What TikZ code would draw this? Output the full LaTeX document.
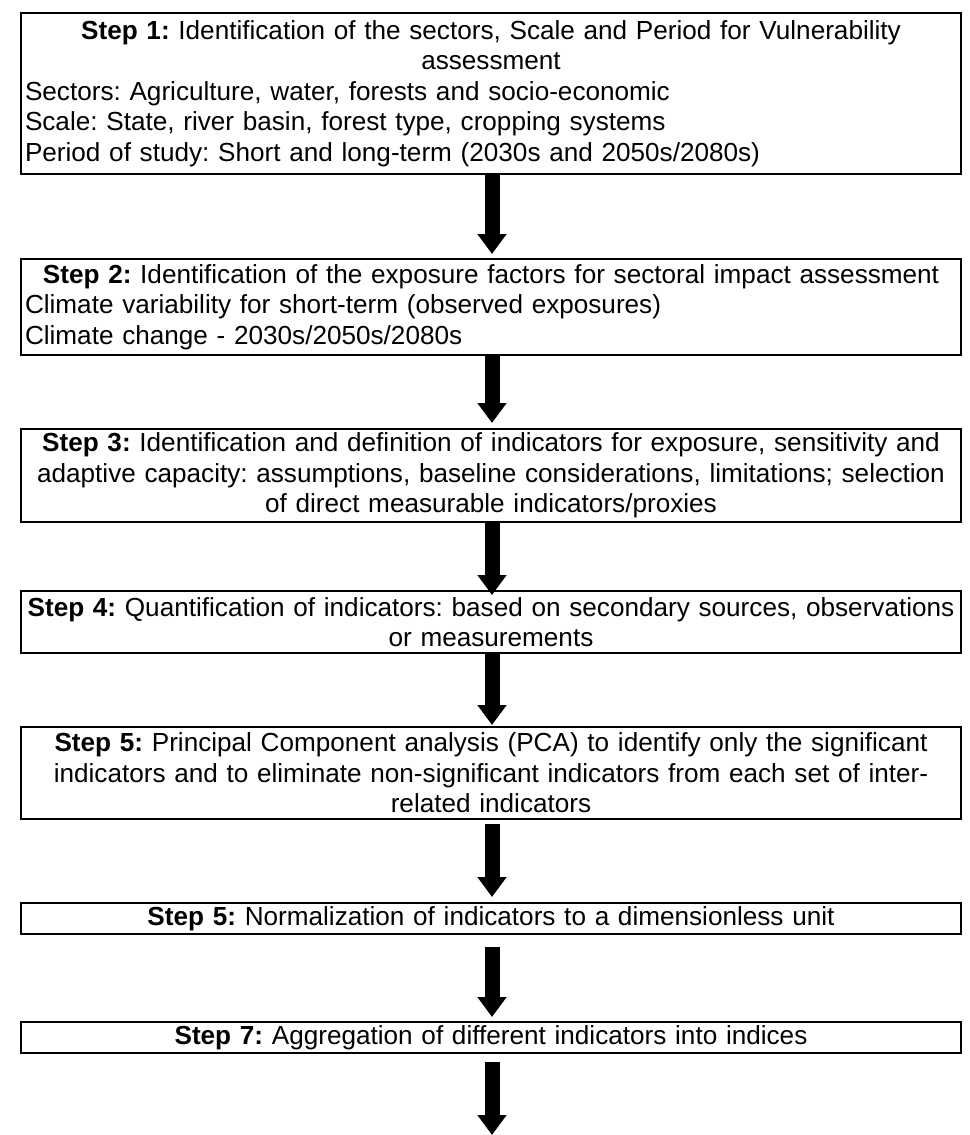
\documentclass[tikz,border=0pt]{standalone}
\usepackage{fontspec}
\setmainfont{Liberation Sans}
\usetikzlibrary{arrows.meta}
\newcommand{\boxcline}[1]{\makebox[\linewidth][c]{#1}}
\newcommand{\boxlline}[1]{\makebox[\linewidth][l]{#1}}
\begin{document}
\frenchspacing
\begin{tikzpicture}[x=0.75pt,y=-0.75pt,
  stepbox/.style={draw, line width=1.5pt, rectangle, inner xsep=3pt, inner ysep=0pt,
    text width=699pt, align=left, anchor=north,
    font=\fontsize{19.6pt}{22.9pt}\selectfont\frenchspacing},
  flow/.style={line width=11.25pt, -{Triangle[width=21pt,length=15pt]}}
]
\useasboundingbox (0,0) rectangle (970,1135);

\node[stepbox, minimum height=120.75pt] (b1) at (491,12) {%
  \boxcline{\textbf{Step 1:} Identification of the sectors, Scale and Period for Vulnerability}\\
  \boxcline{assessment}\\
  \boxlline{Sectors: Agriculture, water, forests and socio-economic}\\
  \boxlline{Scale: State, river basin, forest type, cropping systems}\\
  \boxlline{Period of study: Short and long-term (2030s and 2050s/2080s)}};

\node[stepbox, minimum height=72pt] (b2) at (491,258) {%
  \boxcline{\textbf{Step 2:} Identification of the exposure factors for sectoral impact assessment}\\
  \boxlline{Climate variability for short-term (observed exposures)}\\
  \boxlline{Climate change - 2030s/2050s/2080s}};

\node[stepbox, minimum height=69.75pt] (b3) at (491,428) {%
  \boxcline{\textbf{Step 3:} Identification and definition of indicators for exposure, sensitivity and}\\
  \boxcline{adaptive capacity: assumptions, baseline considerations, limitations; selection}\\
  \boxcline{of direct measurable indicators/proxies}};

\node[stepbox, minimum height=46.5pt] (b4) at (491,590) {%
  \boxcline{\textbf{Step 4:} Quantification of indicators: based on secondary sources, observations}\\
  \boxcline{or measurements}};

\node[stepbox, minimum height=69pt] (b5) at (491,726) {%
  \boxcline{\textbf{Step 5:} Principal Component analysis (PCA) to identify only the significant}\\
  \boxcline{indicators and to eliminate non-significant indicators from each set of inter-}\\
  \boxcline{related indicators}};

\node[stepbox, minimum height=23.25pt] (b6) at (491,902) {%
  \boxcline{\textbf{Step 5:} Normalization of indicators to a dimensionless unit}};

\node[stepbox, minimum height=23.25pt] (b7) at (491,1021) {%
  \boxcline{\textbf{Step 7:} Aggregation of different indicators into indices}};

\coordinate (end) at (492,1135);

\draw[flow, shorten >=3pt] ([xshift=0.75pt]b1.south) -- ([xshift=0.75pt]b2.north);
\draw[flow, shorten >=3.75pt] ([xshift=0.75pt]b2.south) -- ([xshift=0.75pt]b3.north);
\draw[flow, shorten >=-3.75pt] ([xshift=0.75pt]b3.south) -- ([xshift=0.75pt]b4.north);
\draw[flow, shorten >=0.75pt] ([xshift=0.75pt]b4.south) -- ([xshift=0.75pt]b5.north);
\draw[flow, shorten <=3pt, shorten >=3.75pt] ([xshift=0.75pt]b5.south) -- ([xshift=0.75pt]b6.north);
\draw[flow, shorten <=9pt, shorten >=3pt] ([xshift=0.75pt]b6.south) -- ([xshift=0.75pt]b7.north);
\draw[flow, shorten <=6pt] ([xshift=0.75pt]b7.south) -- (end);
\end{tikzpicture}
\end{document}
